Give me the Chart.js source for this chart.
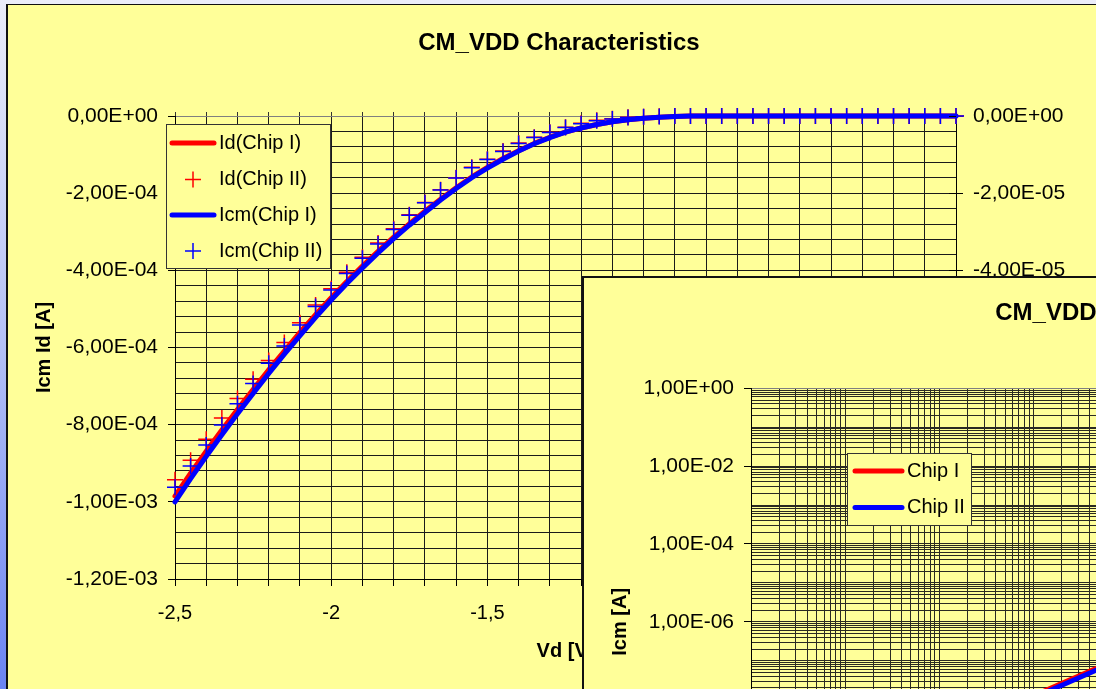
<!DOCTYPE html>
<html>
<head>
<meta charset="utf-8">
<script src="https://cdn.jsdelivr.net/npm/chart.js@4"></script>
<style>
  html, body { margin: 0; padding: 0; width: 1096px; height: 689px; overflow: hidden; }
  body { position: relative; background: linear-gradient(180deg, #ebedfa 0%, #b4c0f6 50%, #6b84f2 100%); }
  #frame { position: absolute; left: 6px; top: 4px; width: 1200px; height: 800px; background: #ffff99;
           border-left: 2px solid #111; border-top: 1px solid #111; }
  #main { position: absolute; left: 0; top: 0; }
  #insetFrame { position: absolute; left: 582px; top: 276px; width: 700px; height: 600px; background: #ffff99;
                border-left: 2px solid #111; border-top: 2px solid #111; }
  #inset { position: absolute; left: 576px; top: 272px; }
</style>
</head>
<body>
<div id="frame"></div>
<canvas id="main" width="1118" height="689"></canvas>
<div id="insetFrame"></div>
<canvas id="inset" width="1120" height="689"></canvas>
<script>
// ---- Drain voltage sweep [V] ----
const vd = [-2.50, -2.45, -2.40, -2.35, -2.30, -2.25, -2.20, -2.15, -2.10, -2.05,
            -2.00, -1.95, -1.90, -1.85, -1.80, -1.75, -1.70, -1.65, -1.60, -1.55,
            -1.50, -1.45, -1.40, -1.35, -1.30, -1.25, -1.20, -1.15, -1.10, -1.05,
            -1.00, -0.95, -0.90, -0.85, -0.80, -0.75, -0.70, -0.65, -0.60, -0.55,
            -0.50, -0.45, -0.40, -0.35, -0.30, -0.25, -0.20, -0.15, -0.10, -0.05, 0.00];

// Drain current Id [A] (left axis)
const idChip1 = [-9.85e-4, -9.26e-4, -8.69e-4, -8.14e-4, -7.61e-4, -7.09e-4, -6.58e-4, -6.09e-4, -5.61e-4, -5.15e-4,
                 -4.71e-4, -4.29e-4, -3.89e-4, -3.51e-4, -3.14e-4, -2.80e-4, -2.47e-4, -2.16e-4, -1.86e-4, -1.58e-4,
                 -1.33e-4, -1.10e-4, -9.0e-5, -7.1e-5, -5.5e-5, -4.2e-5, -3.1e-5, -2.2e-5, -1.5e-5, -1.0e-5,
                 -6.0e-6, -3.0e-6, -1.0e-6, -3.0e-7, 0, 0, 0, 0, 0, 0,
                 0, 0, 0, 0, 0, 0, 0, 0, 0, 0, 0];
const idChip2 = [-9.43e-4, -8.92e-4, -8.38e-4, -7.83e-4, -7.32e-4, -6.82e-4, -6.34e-4, -5.87e-4, -5.36e-4, -4.90e-4,
                 -4.48e-4, -4.05e-4, -3.66e-4, -3.29e-4, -2.92e-4, -2.56e-4, -2.24e-4, -1.91e-4, -1.60e-4, -1.33e-4,
                 -1.12e-4, -9.1e-5, -7.0e-5, -5.5e-5, -4.2e-5, -2.9e-5, -1.9e-5, -1.1e-5, -7.0e-6, -3.5e-6,
                 -1.8e-6, -8.0e-7, 0, 0, 0, 0, 0, 0, 0, 0,
                 0, 0, 0, 0, 0, 0, 0, 0, 0, 0, 0];

// Mirrored current Icm [A] (right axis)
const icmChip1 = [-1.000e-4, -9.40e-5, -8.82e-5, -8.26e-5, -7.72e-5, -7.19e-5, -6.67e-5, -6.17e-5, -5.69e-5, -5.22e-5,
                  -4.77e-5, -4.34e-5, -3.94e-5, -3.55e-5, -3.18e-5, -2.83e-5, -2.50e-5, -2.18e-5, -1.88e-5, -1.60e-5,
                  -1.35e-5, -1.12e-5, -9.1e-6, -7.2e-6, -5.6e-6, -4.2e-6, -3.1e-6, -2.2e-6, -1.5e-6, -1.0e-6,
                  -6.0e-7, -3.0e-7, -1.0e-7, -3.0e-8, 0, 0, 0, 0, 0, 0,
                  0, 0, 0, 0, 0, 0, 0, 0, 0, 0, 0];
const icmChip2 = [-9.62e-5, -9.07e-5, -8.53e-5, -8.01e-5, -7.46e-5, -6.93e-5, -6.41e-5, -5.96e-5, -5.42e-5, -4.94e-5,
                  -4.51e-5, -4.08e-5, -3.69e-5, -3.32e-5, -2.94e-5, -2.57e-5, -2.25e-5, -1.92e-5, -1.61e-5, -1.34e-5,
                  -1.13e-5, -9.2e-6, -7.1e-6, -5.6e-6, -4.3e-6, -3.0e-6, -2.0e-6, -1.2e-6, -8.0e-7, -4.0e-7,
                  -2.0e-7, -1.0e-7, 0, 0, 0, 0, 0, 0, 0, 0,
                  0, 0, 0, 0, 0, 0, 0, 0, 0, 0, 0];

// Bottom axis labels (every 0.5 V)
const vdTickLabels = ['-2,5', '-2', '-1,5', '-1', '-0,5', '0'];

// ---- Log-log transfer: Icm versus Id ----
const idSweep      = [1e-10, 1e-9, 1e-8, 1e-7, 1e-6, 1e-5, 1e-4, 1e-3];
const icmLogChip1  = [1.35e-11, 1.32e-10, 1.28e-9, 1.25e-8, 1.42e-7, 1.30e-6, 1.18e-5, 1.00e-4];
const icmLogChip2  = [1.20e-11, 1.17e-10, 1.14e-9, 1.12e-8, 1.28e-7, 1.20e-6, 1.10e-5, 0.98e-4];

const YELLOW = '#ffff99';
const GRID = '#1a1a1a';
const TICK_FONT = { size: 21 };

Chart.defaults.font.family = "'Liberation Sans', Arial, sans-serif";
Chart.defaults.font.size = 20;
Chart.defaults.color = '#000';

function pts(xs, ys) { return xs.map((x, i) => ({ x: x, y: ys[i] })); }

// Excel-style scientific label: 0,00E+00 / -2,00E-04
function sci(v) {
  if (Math.abs(v) < 1e-15) return '0,00E+00';
  const parts = v.toExponential(2).split('e');
  const e = parseInt(parts[1], 10);
  return parts[0].replace('.', ',') + 'E' + (e < 0 ? '-' : '+') + String(Math.abs(e)).padStart(2, '0');
}
function isStep(v, step) { return Math.abs(v / step - Math.round(v / step)) < 1e-6; }

// 1..9 x 10^n ticks for logarithmic axes
function decadeTicks(scale) {
  const lo = Math.round(Math.log10(scale.min));
  const hi = Math.round(Math.log10(scale.max));
  const out = [];
  for (let e = lo; e < hi; e++) {
    for (let m = 1; m < 10; m++) out.push({ value: m * Math.pow(10, e) });
  }
  out.push({ value: Math.pow(10, hi) });
  scale.ticks = out;
}
function decadeExp(v) {
  const l = Math.log10(v);
  return Math.abs(l - Math.round(l)) < 1e-6 ? Math.round(l) : null;
}

// Framed legend drawn at a fixed spot inside the figure
const boxLegend = {
  id: 'boxLegend',
  afterDraw(chart, args, o) {
    const ctx = chart.ctx;
    ctx.save();
    ctx.fillStyle = YELLOW;
    ctx.strokeStyle = '#333';
    ctx.lineWidth = 1;
    ctx.fillRect(o.x, o.y, o.w, o.h);
    ctx.strokeRect(o.x + 0.5, o.y + 0.5, o.w, o.h);
    chart.data.datasets.forEach((ds, i) => {
      const cy = o.rows[i];
      if (ds.showLine === false) {
        const cx = (o.x1 + o.x2) / 2, r = ds.pointRadius;
        ctx.strokeStyle = ds.pointBorderColor;
        ctx.lineWidth = ds.pointBorderWidth;
        ctx.lineCap = 'butt';
        ctx.beginPath();
        ctx.moveTo(cx - r, cy); ctx.lineTo(cx + r, cy);
        ctx.moveTo(cx, cy - r); ctx.lineTo(cx, cy + r);
        ctx.stroke();
      } else {
        ctx.strokeStyle = ds.borderColor;
        ctx.lineWidth = ds.borderWidth;
        ctx.lineCap = 'round';
        ctx.beginPath();
        ctx.moveTo(o.x1, cy); ctx.lineTo(o.x2, cy);
        ctx.stroke();
      }
      ctx.fillStyle = '#000';
      ctx.font = "20px 'Liberation Sans', Arial, sans-serif";
      ctx.textAlign = 'left';
      ctx.textBaseline = 'middle';
      ctx.fillText(ds.label, o.tx, cy);
    });
    ctx.restore();
  }
};

// Secondary-axis tick marks that cross into the plot
const innerTicks = {
  id: 'innerTicks',
  afterDraw(chart, args, o) {
    const s = chart.scales[o.axis];
    if (!s) return;
    const ctx = chart.ctx;
    ctx.save();
    ctx.strokeStyle = '#000';
    ctx.lineWidth = 1;
    ctx.beginPath();
    s.ticks.forEach(t => {
      const y = Math.round(s.getPixelForValue(t.value)) + 0.5;
      ctx.moveTo(s.left - o.len, y);
      ctx.lineTo(s.left, y);
    });
    ctx.stroke();
    ctx.restore();
  }
};

const markerSet = (label, ys, color, axis, order) => ({
  label, data: pts(vd, ys), yAxisID: axis, showLine: false, order, clip: false,
  pointStyle: 'cross', pointRadius: 8, pointHoverRadius: 8, pointBorderWidth: 1.5,
  pointBorderColor: color, borderColor: color, backgroundColor: color
});
const lineSet = (label, ys, color, axis, order) => ({
  label, data: pts(vd, ys), yAxisID: axis, order, clip: false,
  borderColor: color, backgroundColor: color, borderWidth: 5, pointRadius: 0, tension: 0,
  borderCapStyle: 'round', borderJoinStyle: 'round'
});

new Chart(document.getElementById('main'), {
  type: 'line',
  data: {
    datasets: [
      lineSet('Id(Chip I)', idChip1, '#ff0000', 'y', 4),
      markerSet('Id(Chip II)', idChip2, '#ff0000', 'y', 3),
      lineSet('Icm(Chip I)', icmChip1, '#0000ff', 'y2', 2),
      markerSet('Icm(Chip II)', icmChip2, '#0000ff', 'y2', 1)
    ]
  },
  plugins: [boxLegend, innerTicks],
  options: {
    responsive: false,
    animation: false,
    events: [],
    layout: { padding: 0 },
    plugins: {
      legend: { display: false },
      tooltip: { enabled: false },
      title: { display: true, text: 'CM_VDD Characteristics', color: '#000',
               font: { size: 24, weight: 'bold' }, padding: { top: 29, bottom: 0 } },
      boxLegend: { x: 166, y: 124, w: 164, h: 144, rows: [143, 179.5, 215, 251], x1: 172, x2: 214, tx: 219 },
      innerTicks: { axis: 'y2', len: 7 }
    },
    scales: {
      x: {
        type: 'linear', position: 'bottom', min: -2.5, max: 0,
        ticks: { stepSize: 0.1, autoSkip: false, maxRotation: 0, padding: 15,
                 callback: v => { const k = Math.round(v * 10); return k % 5 === 0 ? vdTickLabels[(k + 25) / 5] : ''; } },
        grid: { color: GRID, tickColor: '#000', tickLength: 7 },
        border: { color: '#000' },
        title: { display: true, text: 'Vd [V]', font: { size: 20, weight: 'bold' }, padding: { top: 0, bottom: 26 } },
        afterFit: s => { s.height = 110; }
      },
      xTop: {
        type: 'linear', position: 'top', min: -2.5, max: 0,
        ticks: { stepSize: 0.1, display: false },
        grid: { drawOnChartArea: false, tickLength: 4, tickColor: '#333' },
        border: { color: '#808080' },
        afterFit: s => { s.height = 116 - 57.8; }
      },
      y: {
        type: 'linear', position: 'left', min: -1.2e-3, max: 0,
        ticks: { stepSize: 4e-5, autoSkip: false, padding: 10, font: TICK_FONT,
                 callback: v => isStep(v, 2e-4) ? sci(v) : '' },
        grid: { color: c => (c.tick && Math.abs(c.tick.value) < 1e-12) ? '#808080' : GRID,
                tickColor: c => (c.tick && isStep(c.tick.value, 2e-4)) ? '#000' : 'rgba(0,0,0,0)',
                tickLength: 7 },
        border: { color: '#000' },
        title: { display: true, text: 'Icm Id [A]', font: { size: 20, weight: 'bold' }, padding: { top: 32, bottom: 0 } },
        afterFit: s => { s.width = 175; }
      },
      y2: {
        type: 'linear', position: 'right', min: -1.2e-4, max: 0,
        ticks: { stepSize: 2e-5, autoSkip: false, padding: 10, font: TICK_FONT, callback: v => sci(v) },
        grid: { drawOnChartArea: false, tickLength: 7, tickColor: '#000' },
        border: { color: '#000' },
        afterFit: s => { s.width = 1118 - 956; }
      }
    }
  }
});

new Chart(document.getElementById('inset'), {
  type: 'line',
  data: {
    datasets: [
      { label: 'Chip I', data: pts(idSweep, icmLogChip1), borderColor: '#ff0000', backgroundColor: '#ff0000',
        borderWidth: 5, pointRadius: 0, order: 2, clip: false },
      { label: 'Chip II', data: pts(idSweep, icmLogChip2), borderColor: '#0000ff', backgroundColor: '#0000ff',
        borderWidth: 5, pointRadius: 0, order: 1, clip: false }
    ]
  },
  plugins: [boxLegend],
  options: {
    responsive: false,
    animation: false,
    events: [],
    layout: { padding: 0 },
    plugins: {
      legend: { display: false },
      tooltip: { enabled: false },
      title: { display: true, text: 'CM_VDD Characteristics', color: '#000',
               font: { size: 24, weight: 'bold' }, padding: { top: 27, bottom: 116.3 - 55.8 } },
      boxLegend: { x: 271, y: 181, w: 124, h: 72, rows: [199, 235.5], x1: 279, x2: 326, tx: 331 }
    },
    scales: {
      x: {
        type: 'logarithmic', position: 'bottom', min: 1e-10, max: 1e-1,
        afterBuildTicks: decadeTicks,
        ticks: { autoSkip: false, maxRotation: 0, padding: 15, font: TICK_FONT,
                 callback: v => decadeExp(v) !== null ? sci(v) : '' },
        grid: { color: '#2a2a22', tickColor: c => (c.tick && decadeExp(c.tick.value) !== null) ? '#000' : 'rgba(0,0,0,0)', tickLength: 7 },
        border: { color: '#000' },
        title: { display: true, text: 'Id [A]', font: { size: 20, weight: 'bold' }, padding: { top: 0, bottom: 26 } },
        afterFit: s => { s.height = 105.7; }
      },
      y: {
        type: 'logarithmic', position: 'left', min: 1e-12, max: 1,
        afterBuildTicks: decadeTicks,
        ticks: { autoSkip: false, padding: 10, font: TICK_FONT,
                 callback: v => { const e = decadeExp(v); return (e !== null && e % 2 === 0) ? sci(v) : ''; } },
        grid: { color: c => (c.tick && Math.abs(c.tick.value - 1) < 1e-9) ? '#808080' : '#2a2a22',
                tickColor: c => { const e = c.tick ? decadeExp(c.tick.value) : null; return (e !== null && e % 2 === 0) ? '#000' : 'rgba(0,0,0,0)'; },
                tickLength: 7 },
        border: { color: '#000' },
        title: { display: true, text: 'Icm [A]', font: { size: 20, weight: 'bold' }, padding: { top: 32, bottom: 0 } },
        afterFit: s => { s.width = 175; }
      },
      yRight: {
        type: 'linear', position: 'right', display: true,
        ticks: { display: false }, grid: { display: false }, border: { display: false },
        afterFit: s => { s.width = 98; }
      }
    }
  }
});
</script>
</body>
</html>
